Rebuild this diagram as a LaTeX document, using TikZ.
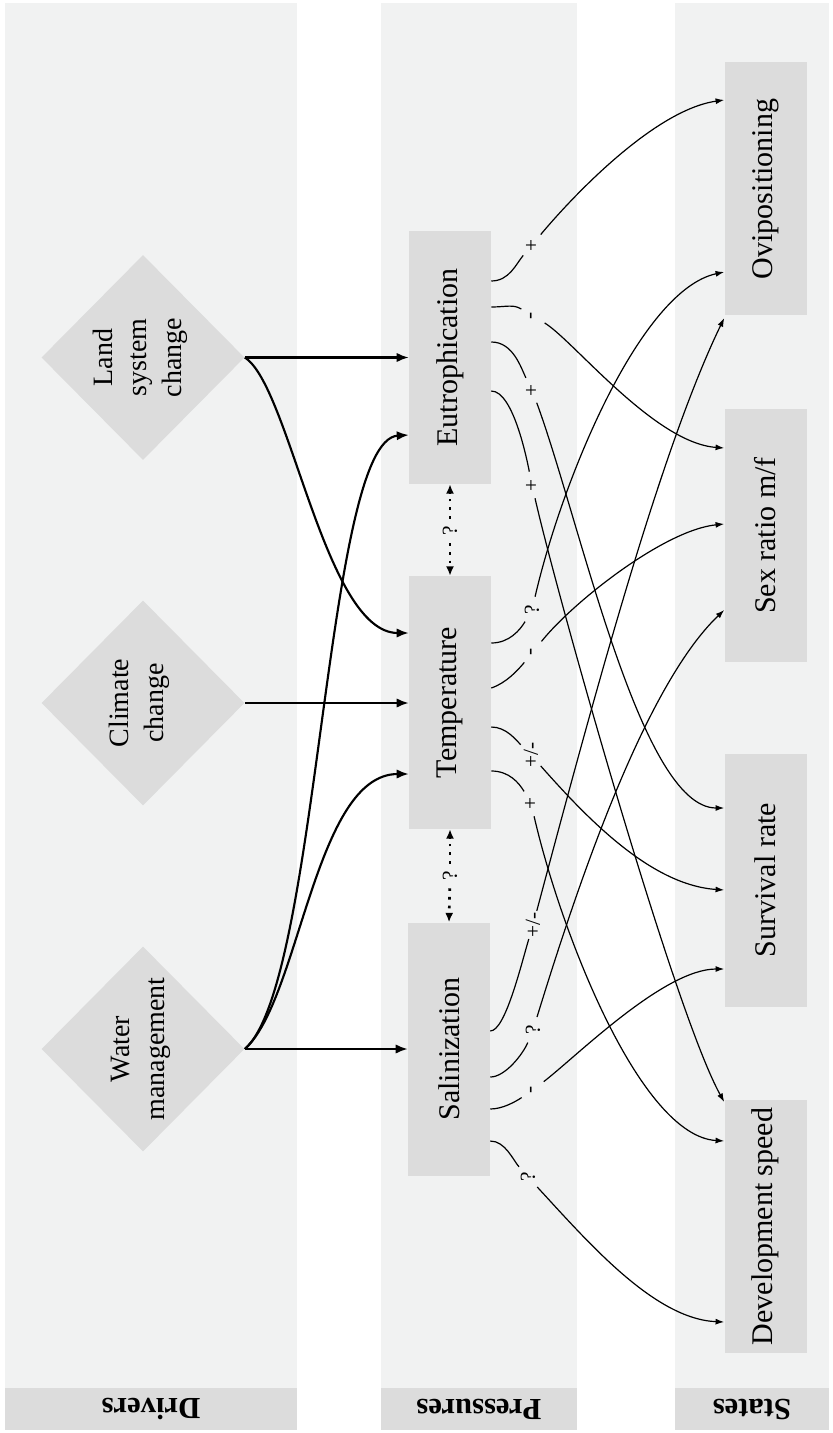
\documentclass[tikz,border=0pt]{standalone}
\usepackage{fontspec}
\setmainfont{Liberation Serif}
\usepackage{graphicx}
\usetikzlibrary{arrows.meta,shapes.geometric}
\definecolor{bandc}{HTML}{F1F2F2}
\definecolor{boxc}{HTML}{DCDCDC}
\definecolor{hdrc}{HTML}{DCDCDC}
\newcommand{\boxfont}{\fontsize{22.5}{27}\selectfont}
\newcommand{\drvfont}{\fontsize{21}{26}\selectfont}
\newcommand{\hdrfont}{\fontsize{23}{27}\selectfont\bfseries}
\newcommand{\labfont}{\fontsize{16}{19}\selectfont}
\newcommand{\rtext}[1]{\rotatebox{90}{#1}}
\begin{document}
\begin{tikzpicture}[x=0.75pt,y=-0.75pt,
  hdr/.style={fill=hdrc, draw=none, minimum height=31.5pt, inner sep=0pt, rotate=180, font=\hdrfont},
  pbox/.style={fill=boxc, draw=none, minimum width=61.5pt, minimum height=189.75pt, inner sep=0pt, font=\boxfont},
  ddiam/.style={diamond, fill=boxc, draw=none, minimum width=152.25pt, minimum height=153.75pt, inner sep=0pt},
  dtext/.style={font=\drvfont, inner sep=0pt},
  drvarrow/.style={line width=1.6pt, -{Latex[length=9pt,width=7pt]}},
  effarrow/.style={line width=0.9pt, -{Latex[length=6.5pt,width=4.5pt]}},
  effline/.style={line width=0.9pt},
  lab/.style={circle, inner sep=0pt, minimum size=20pt, rotate=90, font=\labfont},
  qlab/.style={circle, inner sep=0pt, minimum size=18pt, rotate=90, font=\labfont},
  dotarrow/.style={line width=2pt, dash pattern=on 2pt off 4.5pt, -{Latex[length=7pt,width=6pt]}}
]
\useasboundingbox (0,0) rectangle (832,1433);
% bands
\fill[bandc] (5,3) rectangle (297,1388);
\fill[bandc] (381,3) rectangle (577,1388);
\fill[bandc] (675,3) rectangle (829,1388);
% headers
\node[hdr, minimum width=219pt] (hD) at (151,1409) {Drivers};
\node[hdr, minimum width=147pt] (hP) at (479,1409) {Pressures};
\node[hdr, minimum width=115.5pt] (hS) at (752,1409) {States};
% drivers
\node[ddiam] (land) at (143,357.5) {};
\node[dtext] (landt) at (140,357.5) {\rtext{\begin{tabular}{@{}c@{}}Land\\system\\change\end{tabular}}};
\node[ddiam] (clim) at (143,703) {};
\node[dtext] (climt) at (139,703) {\rtext{\begin{tabular}{@{}c@{}}Climate\\change\end{tabular}}};
\node[ddiam] (water) at (143,1049) {};
\node[dtext] (watert) at (140,1049) {\rtext{\begin{tabular}{@{}c@{}}Water\\management\end{tabular}}};
% pressures
\node[pbox] (eut) at (450,357.5) {\rtext{Eutrophication}};
\node[pbox] (tem) at (450,702.5) {\rtext{Temperature}};
\node[pbox] (sal) at (449,1049) {\rtext{Salinization}};
% states
\node[pbox] (ovi) at (765.5,189) {\rtext{Ovipositioning}};
\node[pbox] (sex) at (765.5,535.5) {\rtext{Sex ratio m/f}};
\node[pbox] (sur) at (765.5,880) {\rtext{Survival rate}};
\node[pbox] (dev) at (765.5,1226.5) {\rtext{Development speed}};
% driver arrows
\draw[drvarrow] (land.east) -- (eut.west |- land.east);
\draw[drvarrow] (land.east) .. controls +(45,28) and +(-84,0) .. (tem.west |- 0,633);
\draw[drvarrow] (clim.east) -- (tem.west |- clim.east);
\draw[drvarrow] (water.east) -- (sal.west |- water.east);
\draw[drvarrow] (water.east) .. controls +(55,-49) and +(-94,0) .. (tem.west |- 0,774);
\draw[drvarrow] (water.east) .. controls +(75,-64) and +(-84,5) .. (eut.west |- 0,435);
% uncertain interactions between pressures
\node[qlab] (q1) at (450,531) {?};
\node[qlab] (q2) at (450,876) {?};
\draw[dotarrow] (q1) -- (eut.south);
\draw[dotarrow] (q1) -- (tem.north);
\draw[dotarrow] (q2) -- (tem.south);
\draw[dotarrow] (q2) -- (sal.north);
% effect labels
\node[lab] (lE1) at (532,245) {+};
\node[lab] (lE2) at (533,316) {-};
\node[lab] (lE3) at (532,390) {+};
\node[lab] (lE4) at (532,485) {+};
\node[lab] (lT1) at (532,610) {?};
\node[lab] (lT2) at (533,652) {-};
\node[lab] (lT3) at (531,755) {+/-};
\node[lab] (lT4) at (531,803) {+};
\node[lab] (lS1) at (533,925) {+/-};
\node[lab] (lS2) at (533,1030) {?};
\node[lab] (lS3) at (533,1090) {-};
\node[lab] (lS4) at (528,1177) {?};
% Eutrophication effects
\draw[effline] (eut.east |- 0,281) .. controls +(18,0) and +(-16,19) .. (lE1);
\draw[effarrow] (lE1) .. controls +(40,-48) and +(-70,10) .. (ovi.west |- 0,100);
\draw[effline] (eut.east |- 0,307) .. controls +(15,0) and +(-20,-12) .. (lE2);
\draw[effarrow] (lE2) .. controls +(40,24) and +(-70,-5) .. (sex.west |- 0,448);
\draw[effline] (eut.east |- 0,342) .. controls +(22,0) and +(-11,-22) .. (lE3);
\draw[effarrow] (lE3) .. controls +(48,130) and +(-84,0) .. (sur.west |- 0,808);
\draw[effline] (eut.east |- 0,391) .. controls +(22,0) and +(-5,-25) .. (lE4);
\draw[effarrow] (lE4) .. controls +(25,110) and +(-50,-90) .. (dev.west |- 0,1102);
% Temperature effects
\draw[effline] (tem.east |- 0,643) .. controls +(18,0) and +(-12,20) .. (lT1);
\draw[effarrow] (lT1) .. controls +(30,-130) and +(-84,18) .. (ovi.west |- 0,272);
\draw[effline] (tem.east |- 0,688) .. controls +(15,-5) and +(-15,18) .. (lT2);
\draw[effarrow] (lT2) .. controls +(40,-50) and +(-60,6) .. (sex.west |- 0,524);
\draw[effline] (tem.east |- 0,727) .. controls +(15,0) and +(-15,-15) .. (lT3);
\draw[effarrow] (lT3) .. controls +(55,62) and +(-74,-5) .. (sur.west |- 0,890);
\draw[effline] (tem.east |- 0,771) .. controls +(18,0) and +(-12,-20) .. (lT4);
\draw[effarrow] (lT4) .. controls +(30,130) and +(-84,-5) .. (dev.west |- 0,1141);
% Salinization effects
\draw[effline] (sal.east |- 0,1031) .. controls +(15,0) and +(-12,40) .. (lS1);
\draw[effarrow] (lS1) .. controls +(60,-225) and +(-64,132) .. (ovi.west |- 0,318);
\draw[effline] (sal.east |- 0,1077) .. controls +(15,0) and +(-10,24) .. (lS2);
\draw[effarrow] (lS2) .. controls +(37,-120) and +(-84,80) .. (sex.west |- 0,610);
\draw[effline] (sal.east |- 0,1109) .. controls +(12,0) and +(-18,12) .. (lS3);
\draw[effarrow] (lS3) .. controls +(45,-35) and +(-60,0) .. (sur.west |- 0,969);
\draw[effline] (sal.east |- 0,1141) .. controls +(15,0) and +(-15,-17) .. (lS4);
\draw[effarrow] (lS4) .. controls +(60,65) and +(-70,-3) .. (dev.west |- 0,1322);
\end{tikzpicture}
\end{document}
